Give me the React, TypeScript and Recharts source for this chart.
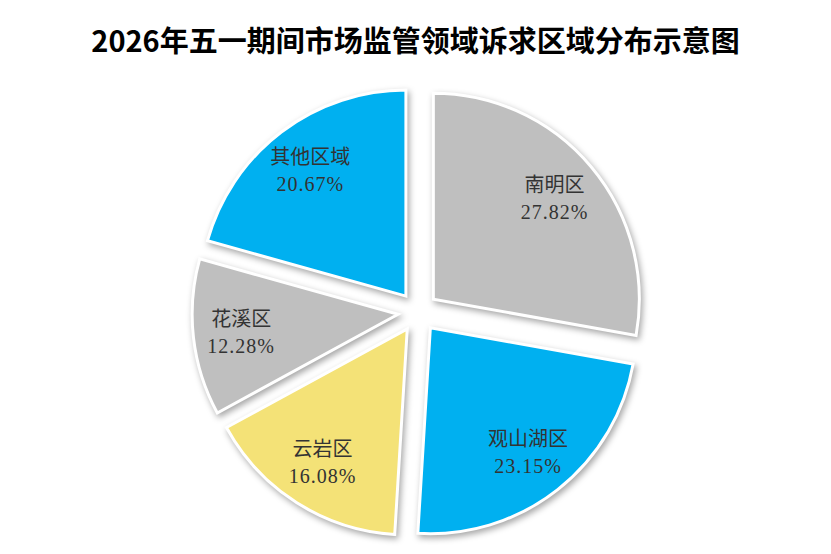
import React from "react";
import { PieChart, Pie, Cell } from "recharts";

const regions = ["南明区", "观山湖区", "云岩区", "花溪区", "其他区域"];
const shares = [27.82, 23.15, 16.08, 12.28, 20.67];
const colors = ["#BFBFBF", "#00B0F0", "#F4E277", "#BFBFBF", "#00B0F0"];

const data = regions.map((name, i) => ({ name, value: shares[i] }));
const total = shares.reduce((a, b) => a + b, 0);

const W = 831;
const H = 554;
const CX = 413;
const CY = 307;
const R = 206;
const EXPLODE = 20;
const LABEL_R = 158;
const RAD = Math.PI / 180;

// middle angle of each slice, starting at 12 o'clock and going clockwise
const midAngles = shares.map((v, i) => {
  const before = shares.slice(0, i).reduce((a, b) => a + b, 0);
  return 90 - ((before + v / 2) / total) * 360;
});

const labelFont = "'Liberation Serif', 'Noto Sans CJK SC', serif";

const makeLabel = (own: number) => (p: any) => {
  if (p.name !== regions[own]) return <g />;
  const x = p.cx + LABEL_R * Math.cos(-p.midAngle * RAD);
  const y = p.cy + LABEL_R * Math.sin(-p.midAngle * RAD);
  return (
    <g>
      <text x={x} y={y - 13} textAnchor="middle" dominantBaseline="central" fontSize={20} fill="#333" fontFamily={labelFont}>
        {p.name}
      </text>
      <text x={x} y={y + 14} textAnchor="middle" dominantBaseline="central" fontSize={20} letterSpacing={1} fill="#333" fontFamily={labelFont}>
        {Number(p.value).toFixed(2)}%
      </text>
    </g>
  );
};

export default function App() {
  return (
    <div style={{ position: "relative", width: W, height: H, background: "#fff" }}>
      <style>{"body{margin:0} .recharts-sector{filter:drop-shadow(2px 3px 3px rgba(0,0,0,0.35));}"}</style>
      <div
        style={{
          position: "absolute",
          top: 20,
          left: 0,
          width: W,
          textAlign: "center",
          fontFamily: "'Noto Sans CJK SC', sans-serif",
          fontWeight: 700,
          fontSize: 29,
          lineHeight: "38px",
          color: "#000",
        }}
      >
        2026年五一期间市场监管领域诉求区域分布示意图
      </div>
      <PieChart width={W} height={H}>
        {midAngles.map((mid, k) => (
          <Pie
            key={regions[k]}
            data={data}
            dataKey="value"
            nameKey="name"
            cx={CX + EXPLODE * Math.cos(mid * RAD)}
            cy={CY - EXPLODE * Math.sin(mid * RAD)}
            outerRadius={R}
            startAngle={90}
            endAngle={-270}
            label={makeLabel(k)}
            labelLine={false}
            isAnimationActive={false}
          >
            {data.map((d, i) => (
              <Cell
                key={d.name}
                fill={i === k ? colors[i] : "none"}
                stroke={i === k ? "#fff" : "none"}
                strokeWidth={3}
              />
            ))}
          </Pie>
        ))}
      </PieChart>
    </div>
  );
}
